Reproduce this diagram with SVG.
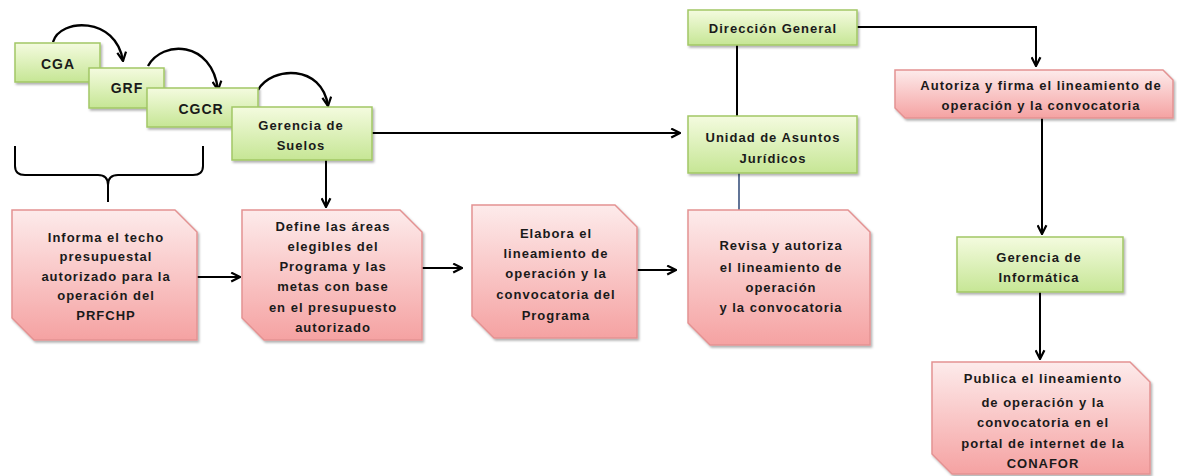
<svg xmlns="http://www.w3.org/2000/svg" width="1177" height="476" viewBox="0 0 1177 476">
  <defs>
    <linearGradient id="gGreen" x1="0" y1="0" x2="0" y2="1">
      <stop offset="0" stop-color="#f4fbdf"/>
      <stop offset="1" stop-color="#c6e695"/>
    </linearGradient>
    <linearGradient id="gPink" x1="0" y1="0" x2="0" y2="1">
      <stop offset="0" stop-color="#fdebeb"/>
      <stop offset="1" stop-color="#f5a2a2"/>
    </linearGradient>
    <filter id="shadow" x="-10%" y="-10%" width="130%" height="130%">
      <feDropShadow dx="1.5" dy="2" stdDeviation="1.2" flood-color="#000" flood-opacity="0.3"/>
    </filter>
    <marker id="arrow" viewBox="0 0 10 10" refX="9" refY="5" markerWidth="11" markerHeight="11" markerUnits="userSpaceOnUse" orient="auto">
      <path d="M1,1 L9,5 L1,9" fill="none" stroke="#000" stroke-width="2"/>
    </marker>
  </defs>
  <style>
    .green { fill: url(#gGreen); stroke: #a2c765; stroke-width: 1.5; filter: url(#shadow); }
    .pink { fill: url(#gPink); stroke: #e39292; stroke-width: 1.5; filter: url(#shadow); }
    text { font-family: "Liberation Sans", Arial, sans-serif; font-weight: bold; font-size: 13px; fill: #1a1a1a; text-anchor: middle; letter-spacing: 1px; }
    .big { font-size: 14px; }
    .conn { fill: none; stroke: #000; stroke-width: 2; }
    .curve { fill: none; stroke: #000; stroke-width: 2.4; }
  </style>

  <rect width="1177" height="476" fill="#fff"/>

  <!-- connectors -->
  <g id="connectors">
    <path class="curve" d="M53,42 C60,18 116,16 123,61" marker-end="url(#arrow)"/>
    <path class="curve" d="M148,66 C162,40 212,40 218,90" marker-end="url(#arrow)"/>
    <path class="curve" d="M258,90 C272,66 322,64 328,106" marker-end="url(#arrow)"/>
    <!-- brace under the first three offices -->
    <path class="conn" d="M15,146 V166 Q15,175 25,175 H98 Q108,175 108,185 V202 M108,185 Q108,175 118,175 H193 Q203,175 203,166 V146"/>
    <path class="conn" d="M372,133 H680" marker-end="url(#arrow)"/>
    <path class="conn" d="M326,160 V207" marker-end="url(#arrow)"/>
    <path class="conn" d="M197,277 H240" marker-end="url(#arrow)"/>
    <path class="conn" d="M422,268 H462" marker-end="url(#arrow)"/>
    <path class="conn" d="M637,270 H676" marker-end="url(#arrow)"/>
    <path class="conn" d="M737,45 V116"/>
    <path fill="none" stroke="#1f3a6b" stroke-width="1.4" d="M739,173 V210"/>
    <path class="conn" d="M857,27 H1036 V66" marker-end="url(#arrow)"/>
    <path class="conn" d="M1042,118 V234" marker-end="url(#arrow)"/>
    <path class="conn" d="M1040,292 V359" marker-end="url(#arrow)"/>
  </g>

  <!-- offices -->
  <g id="cga">
    <rect class="green" x="15" y="43" width="85" height="39"/>
    <text class="big" x="58" y="69">CGA</text>
  </g>
  <g id="grf">
    <rect class="green" x="89" y="68" width="75" height="40"/>
    <text class="big" x="127" y="93">GRF</text>
  </g>
  <g id="cgcr">
    <rect class="green" x="147" y="88" width="111" height="39"/>
    <text class="big" x="201" y="114">CGCR</text>
  </g>
  <g id="gerencia-suelos">
    <rect class="green" x="232" y="107" width="140" height="53"/>
    <text x="301" y="130">Gerencia de</text>
    <text x="301" y="150">Suelos</text>
  </g>
  <g id="direccion-general">
    <rect class="green" x="688" y="10" width="169" height="35"/>
    <text x="773" y="33">Dirección General</text>
  </g>
  <g id="unidad-juridicos">
    <rect class="green" x="688" y="116" width="169" height="57"/>
    <text x="773" y="142">Unidad de Asuntos</text>
    <text x="773" y="163">Jurídicos</text>
  </g>
  <g id="gerencia-informatica">
    <rect class="green" x="957" y="237" width="166" height="55"/>
    <text x="1039" y="262">Gerencia de</text>
    <text x="1039" y="282">Informática</text>
  </g>

  <!-- activities -->
  <g id="informa">
    <path class="pink" d="M12,210 H175 L197,232 V340 H34 L12,318 Z"/>
    <text x="106" y="242">Informa el techo</text>
    <text x="106" y="261">presupuestal</text>
    <text x="106" y="281">autorizado para la</text>
    <text x="106" y="300">operación del</text>
    <text x="106" y="320">PRFCHP</text>
  </g>
  <g id="define">
    <path class="pink" d="M242,210 H400 L422,232 V340 H264 L242,318 Z"/>
    <text x="333" y="231">Define las áreas</text>
    <text x="333" y="251">elegibles del</text>
    <text x="333" y="271">Programa y las</text>
    <text x="333" y="291">metas con base</text>
    <text x="333" y="312">en el presupuesto</text>
    <text x="333" y="332">autorizado</text>
  </g>
  <g id="elabora">
    <path class="pink" d="M472,205 H615 L637,227 V338 H494 L472,316 Z"/>
    <text x="556" y="238">Elabora el</text>
    <text x="556" y="258">lineamiento de</text>
    <text x="556" y="278">operación y la</text>
    <text x="556" y="299">convocatoria del</text>
    <text x="556" y="320">Programa</text>
  </g>
  <g id="revisa">
    <path class="pink" d="M688,210 H848 L870,232 V345 H710 L688,323 Z"/>
    <text x="781" y="250">Revisa y autoriza</text>
    <text x="781" y="272">el lineamiento de</text>
    <text x="781" y="292">operación</text>
    <text x="781" y="312">y la convocatoria</text>
  </g>
  <g id="autoriza">
    <path class="pink" d="M895,70 H1163 L1173,80 V118 H905 L895,108 Z"/>
    <text x="1041" y="90">Autoriza y firma el lineamiento de</text>
    <text x="1041" y="110">operación y la convocatoria</text>
  </g>
  <g id="publica">
    <path class="pink" d="M932,362 H1130 L1150,382 V474 H952 L932,454 Z"/>
    <text x="1043" y="383">Publica el lineamiento</text>
    <text x="1043" y="407">de operación y la</text>
    <text x="1043" y="427">convocatoria en el</text>
    <text x="1043" y="448">portal de internet de la</text>
    <text x="1043" y="468">CONAFOR</text>
  </g>
</svg>
